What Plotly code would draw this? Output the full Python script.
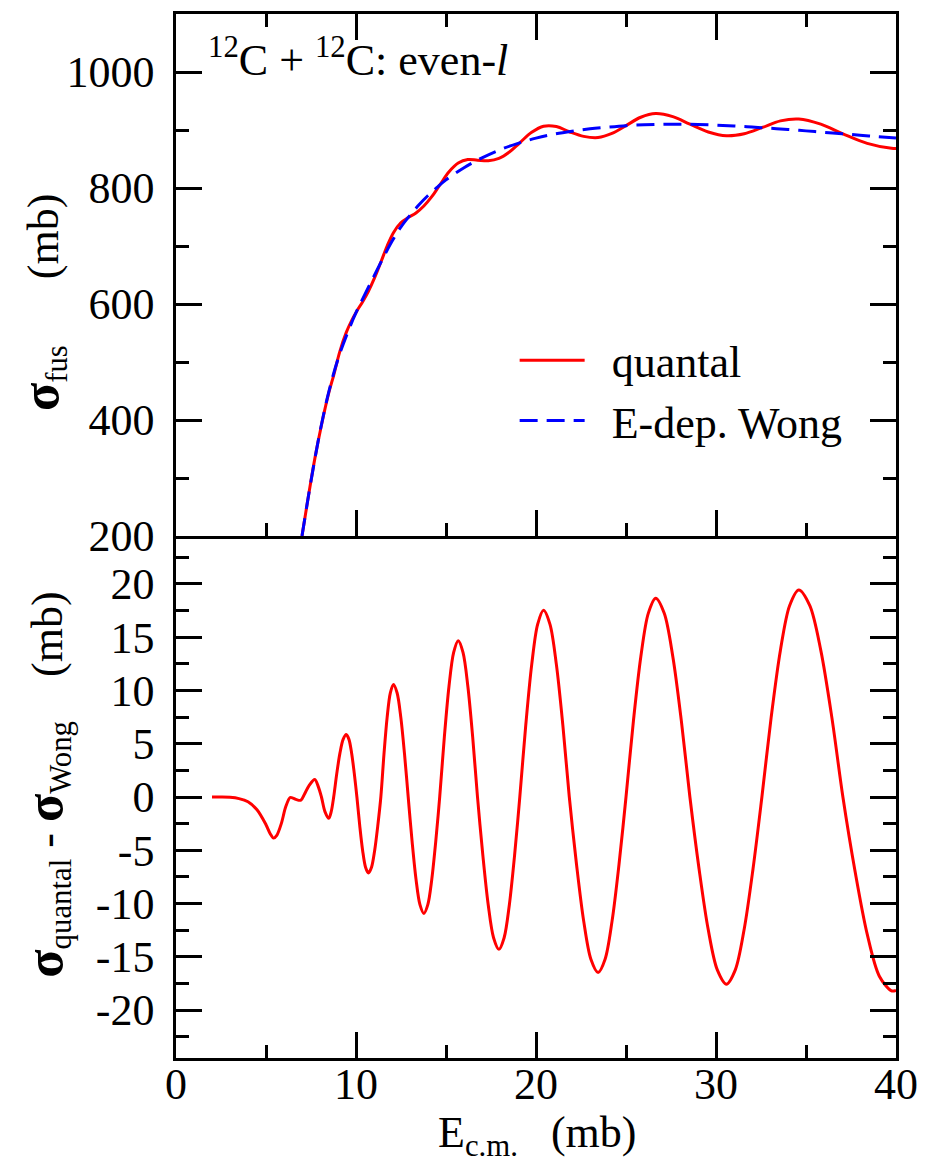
import plotly.graph_objects as go

# ---- fusion cross sections, 12C + 12C (even partial waves) ----
# E-dependent Wong formula
e_wong = [7.0, 7.5, 8.0, 8.5, 9.0, 9.5, 10.0, 10.5, 11.0, 11.5, 12.0, 12.5, 13.0,
          13.5, 14.0, 14.5, 15.0, 16.0, 17.0, 18.0, 19.0, 20.0, 21.0, 22.0, 23.0,
          24.0, 25.0, 26.0, 27.0, 28.0, 29.0, 30.0, 31.0, 32.0, 33.0, 34.0, 35.0,
          36.0, 37.0, 38.0, 39.0, 40.0]
sig_wong = [200, 295, 380, 450, 505, 548, 585, 617, 648, 679, 708, 733, 753,
            771, 787, 801, 814, 835, 852, 866, 877, 886, 893, 898, 902,
            905, 907.5, 909, 910, 910, 909.5, 908.5, 907, 905, 903, 901, 898.5,
            896, 893.5, 891, 888.5, 886]

# quantal (coupled partial-wave) result
e_quantal = [7.0, 7.3, 7.71, 8.08, 8.49, 8.76, 9.1, 9.46, 9.75, 10.05, 10.37, 10.69,
             11.03, 11.38, 11.73, 12.08, 12.49, 12.9, 13.33, 13.77, 14.21, 14.65,
             15.17, 15.68, 16.21, 16.75, 17.35, 17.94, 18.52, 19.1, 19.76, 20.42,
             21.13, 21.85, 22.65, 23.45, 24.22, 25.0, 25.82, 26.65, 27.6, 28.55,
             29.57, 30.58, 31.57, 32.55, 33.58, 34.6, 35.82, 37.05, 38.4, 39.75, 40.0]
sig_quantal = [200, 258, 333, 391, 447, 477, 518, 551, 571, 588, 604, 622,
               645, 672, 700, 723, 740, 749, 757, 769, 785, 805,
               828, 843, 849, 848, 847, 851, 862, 878, 896, 906.5,
               906, 897, 889, 887, 894, 907.5, 922, 928.4, 923, 910,
               896.6, 890, 893.6, 904, 915.7, 919, 910, 893.4, 877, 868.4, 868]

# difference sigma_quantal - sigma_Wong
e_diff = [2.0, 2.5, 3.0, 3.5, 4.0, 4.5, 5.0, 5.25, 5.42, 5.6, 5.85, 6.1, 6.34,
          6.5, 6.7, 6.94, 7.15, 7.4, 7.71, 7.9, 8.08, 8.28, 8.49, 8.62,
          8.76, 8.935, 9.11, 9.285, 9.46, 9.6075, 9.755, 9.9025,
          10.05, 10.21, 10.37, 10.53, 10.69, 10.8625, 11.035, 11.2075,
          11.38, 11.555, 11.73, 11.905, 12.08, 12.285, 12.49, 12.695,
          12.9, 13.1175, 13.335, 13.5525, 13.77, 13.99, 14.21, 14.43,
          14.65, 14.9075, 15.165, 15.4225, 15.68, 15.9475, 16.215, 16.4825,
          16.75, 17.0475, 17.345, 17.6425, 17.94, 18.23, 18.52, 18.81,
          19.1, 19.43, 19.76, 20.09, 20.42, 20.7775, 21.135, 21.4925,
          21.85, 22.25, 22.65, 23.05, 23.45, 23.8375, 24.225, 24.6125,
          25.0, 25.4125, 25.825, 26.2375, 26.65, 27.125, 27.6, 28.075,
          28.55, 29.0575, 29.565, 30.0725, 30.58, 31.0725, 31.565, 32.0575,
          32.55, 33.0625, 33.575, 34.0875, 34.6, 35.2125, 35.825, 36.4375,
          37.05, 37.725, 38.4, 39.075, 39.75, 40.0]
sig_diff = [0.0, 0.0, -0.03, -0.15, -0.45, -1.2, -2.6, -3.5, -3.86, -3.6, -2.5, -0.9, -0.05,
            -0.1, -0.25, -0.3, 0.3, 1.1, 1.65, 1.0, 0.0, -1.4, -2.0, -1.4,
            0.0, 2.24, 4.14, 5.41, 5.86, 5.41, 4.14, 2.24,
            0.0, -2.73, -5.04, -6.59, -7.13, -6.59, -5.04, -2.73,
            0.0, 4.04, 7.47, 9.76, 10.56, 9.76, 7.47, 4.04,
            0.0, -4.19, -7.73, -10.10, -10.93, -10.10, -7.73, -4.19,
            0.0, 5.62, 10.37, 13.55, 14.67, 13.55, 10.37, 5.62,
            0.0, -5.48, -10.11, -13.21, -14.3, -13.21, -10.11, -5.48,
            0.0, 6.72, 12.40, 16.21, 17.54, 16.21, 12.40, 6.72,
            0.0, -6.31, -11.65, -15.23, -16.48, -15.23, -11.65, -6.31,
            0.0, 7.15, 13.19, 17.24, 18.66, 17.24, 13.19, 7.15,
            0.0, -6.73, -12.42, -16.23, -17.57, -16.23, -12.42, -6.73,
            0.0, 7.45, 13.74, 17.96, 19.44, 17.96, 13.74, 7.45,
            0.0, -6.97, -12.87, -16.82, -18.2, -18.15]

# tick labels of the difference panel (plain hyphen for the sign)
diff_tickvals = [-20, -15, -10, -5, 0, 5, 10, 15, 20]
diff_ticktext = ["-20", "-15", "-10", "-5", "0", "5", "10", "15", "20"]

FONT = "Liberation Serif, Times New Roman, Times, serif"
W, H = 929, 1167
ML, MR, MT, MB = 176, 28, 11, 109
PW, PH = W - ML - MR, H - MT - MB


def px(xp):
    return (xp - ML) / PW


def py(yp):
    return (H - MB - yp) / PH


fig = go.Figure()
fig.add_trace(go.Scatter(x=e_quantal, y=sig_quantal, xaxis="x2", yaxis="y2",
                         mode="lines", name="\u00a0\u00a0quantal",
                         line=dict(color="#ff0000", width=3, shape="spline")))
fig.add_trace(go.Scatter(x=e_wong, y=sig_wong, xaxis="x2", yaxis="y2",
                         mode="lines", name="\u00a0\u00a0E-dep. Wong",
                         line=dict(color="#0000ff", width=3, dash="18px,9px",
                                   shape="spline")))
fig.add_trace(go.Scatter(x=e_diff, y=sig_diff, xaxis="x", yaxis="y",
                         mode="lines", showlegend=False,
                         line=dict(color="#ff0000", width=3, shape="spline",
                                   smoothing=0.9)))

tick_font = dict(family=FONT, size=44, color="black")
axis_style = dict(
    showline=True, linecolor="black", linewidth=2.5,
    ticks="inside", ticklen=26, tickwidth=2.5, tickcolor="black",
    showgrid=False, zeroline=False, tickfont=tick_font,
)


def minor(step):
    return dict(ticks="inside", ticklen=13, tickwidth=2.5, tickcolor="black",
                dtick=step, showgrid=False)


fig.update_layout(
    width=W, height=H,
    margin=dict(l=ML, r=MR, t=MT, b=MB),
    paper_bgcolor="white", plot_bgcolor="white",
    font=dict(family=FONT, size=44, color="black"),
    showlegend=True,
    legend=dict(x=px(517), y=py(323), xanchor="left", yanchor="top",
                bgcolor="rgba(0,0,0,0)", itemwidth=65,
                font=dict(family=FONT, size=44, color="black"),
                tracegroupgap=0),
    xaxis=dict(axis_style, domain=[0, 1], anchor="y", range=[0, 40],
               tick0=0, dtick=10, minor=minor(5), mirror=False,
               ticklabelstandoff=-15),
    yaxis=dict(axis_style, domain=[0, 0.5], anchor="x", range=[-24.5, 24.5],
               tickmode="array", tickvals=diff_tickvals, ticktext=diff_ticktext,
               minor=dict(minor(2.5), tick0=0), mirror="ticks",
               ticklabelstandoff=10),
    xaxis2=dict(axis_style, domain=[0, 1], anchor="y2", range=[0, 40],
                matches="x", tick0=0, dtick=10, minor=minor(5),
                mirror="ticks", showticklabels=False),
    yaxis2=dict(axis_style, domain=[0.5, 1], anchor="x2", range=[200, 1100],
                tick0=0, dtick=200, minor=minor(100), mirror="ticks",
                ticklabelstandoff=10),
)

ann_font = dict(family=FONT, size=44, color="black")
SIG = "<span style='font-size:52px'><b>σ</b></span>"
fig.add_annotation(text="<sup>12</sup>C + <sup>12</sup>C: even-<i>l</i>",
                   xref="paper", yref="paper", x=px(206), y=py(55),
                   xanchor="left", yanchor="middle", showarrow=False, font=ann_font)
fig.add_annotation(text=SIG + "<sub>fus</sub>\u00a0\u00a0\u00a0\u00a0\u00a0\u00a0(mb)",
                   xref="paper", yref="paper", x=px(42), y=py(300),
                   xanchor="center", yanchor="middle", textangle=-90,
                   showarrow=False, font=ann_font)
fig.add_annotation(text=SIG + "<sub>quantal</sub> - " + SIG + "<sub>Wong</sub>\u00a0\u00a0\u00a0\u00a0(mb)",
                   xref="paper", yref="paper", x=px(46), y=py(784),
                   xanchor="center", yanchor="middle", textangle=-90,
                   showarrow=False, font=ann_font)
fig.add_annotation(text="E<sub>c.m.</sub>\u00a0\u00a0\u00a0(mb)",
                   xref="paper", yref="paper", x=px(540), y=py(1106),
                   xanchor="center", yanchor="top",
                   showarrow=False, font=ann_font)

fig.write_html("out.html")
